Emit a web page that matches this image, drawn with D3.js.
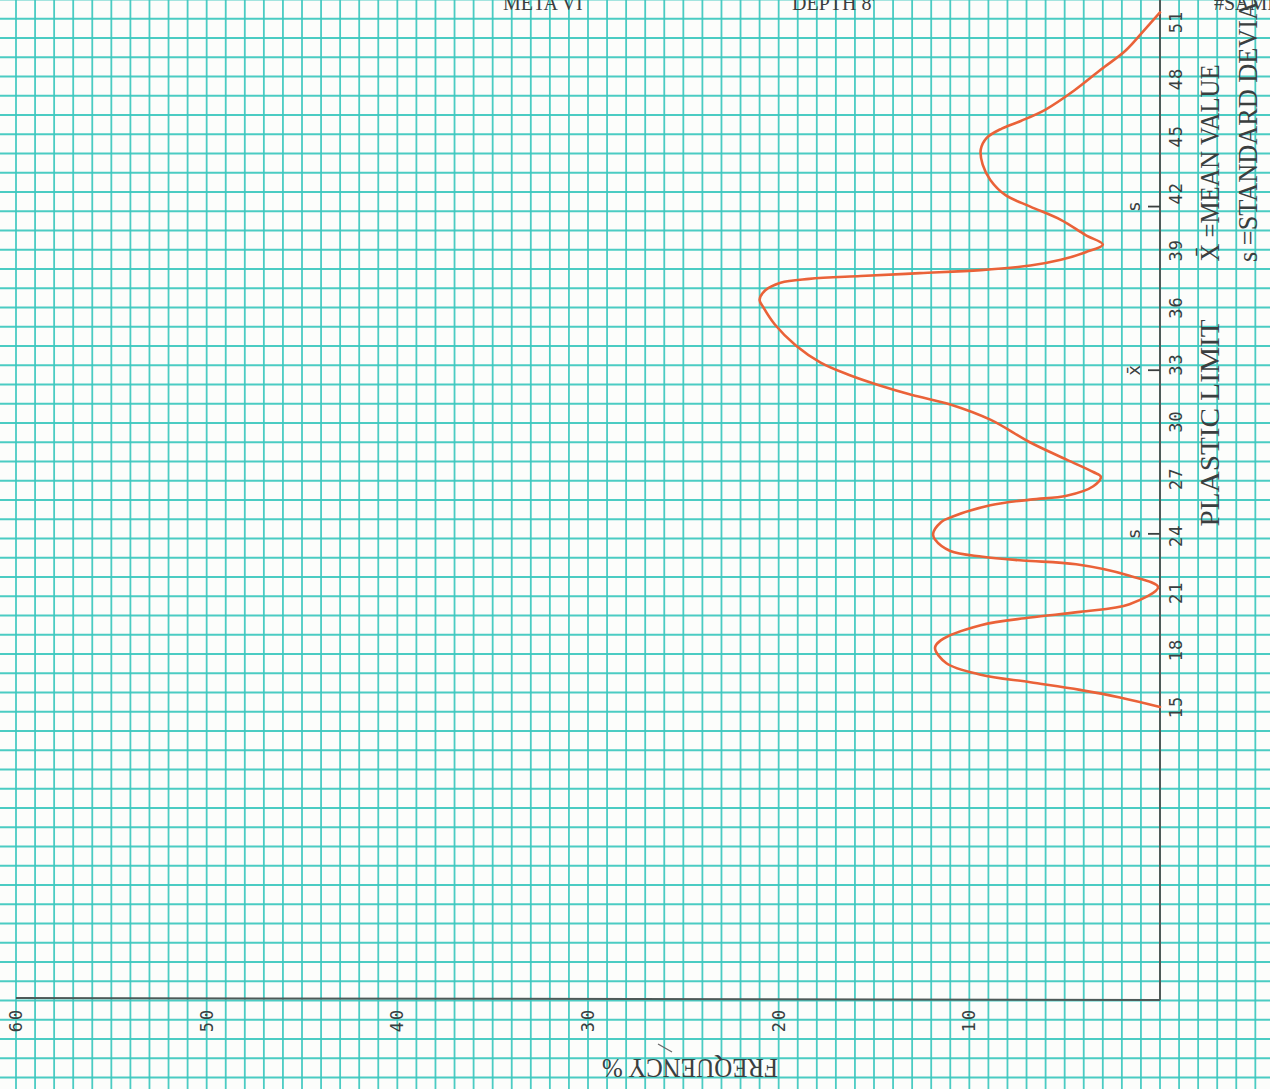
<!DOCTYPE html>
<html><head><meta charset="utf-8">
<script src="https://cdn.jsdelivr.net/npm/d3@7"></script>
<style>html,body{margin:0;padding:0;background:#fcfdfb;overflow:hidden}</style>
</head><body>
<script>
// ---- data ----
const freqTicks = [60, 50, 40, 30, 20, 10];
const plTicks = [15, 18, 21, 24, 27, 30, 33, 36, 39, 42, 45, 48, 51];
const plasticLimit = [15.0,15.5,15.9,16.3,16.7,17.3,18.1,18.5,19.3,19.7,20.0,20.4,21.3,21.9,22.5,22.7,22.9,23.2,23.8,24.1,24.7,25.0,25.6,25.9,26.1,26.6,27.1,27.35,28.0,28.9,30.1,30.9,31.4,31.9,32.45,33.1,34.0,35.1,36.0,36.4,36.9,37.3,37.5,37.65,37.8,37.96,38.2,38.5,38.9,39.3,39.8,40.6,41.3,41.9,42.7,43.5,44.3,44.9,45.4,45.8,46.4,47.4,48.5,49.5,50.6,51.5];
const frequency    = [0.0,2.1,4.2,6.8,9.4,11.2,11.8,11.5,9.4,6.8,4.2,1.6,0.1,1.6,4.4,7.2,9.3,11.0,11.8,11.9,11.5,10.9,8.9,6.8,4.9,3.5,3.1,3.5,4.9,6.8,8.9,11.0,13.0,14.7,16.3,17.8,19.1,20.2,20.8,21.0,20.7,19.9,18.4,15.7,12.6,9.4,6.8,5.2,3.9,3.0,3.9,5.2,6.8,8.1,8.9,9.3,9.4,9.1,8.3,7.3,6.0,4.5,3.1,1.8,0.8,0.0];
const markerValues = [24.1, 32.7, 41.3];
const markerLabels = ["s", "x\u0304", "s"];
const titleTexts = ["META VI", "DEPTH 8'", "#SAMPLE"];

const W = 1270, H = 1089;
const svg = d3.select("body").append("svg").attr("width", W).attr("height", H);
svg.append("rect").attr("width", W).attr("height", H).attr("fill", "#fcfdfb");

// scales: the sheet is rotated, frequency runs right->left, plastic limit bottom->top
const x = d3.scaleLinear().domain([0, 60]).range([1160, 16]);
const y = d3.scaleLinear().domain([15, 51]).range([707, 22]);
// graph-paper ruling scale (paper squares)
const gy = d3.scaleLinear().domain([0, 1]).range([1000.5, 981.25]);

const grid = svg.append("g");
grid.selectAll("line.v").data(d3.range(-6, 62)).join("line")
  .attr("x1", d => x(d)).attr("x2", d => x(d)).attr("y1", 0).attr("y2", H)
  .attr("stroke", "#3cc8bf").attr("stroke-width", 1.8).attr("opacity", 0.92);
grid.selectAll("line.h").data(d3.range(-5, 53)).join("line")
  .attr("y1", d => gy(d)).attr("y2", d => gy(d)).attr("x1", 0).attr("x2", W)
  .attr("stroke", "#3cc8bf").attr("stroke-width", 1.8).attr("opacity", 0.92);

// axes
svg.append("line").attr("x1", x(0)).attr("x2", x(0)).attr("y1", 0).attr("y2", 1000)
  .attr("stroke", "#4e5a58").attr("stroke-width", 2);
svg.append("line").attr("x1", x(60)).attr("x2", x(0)).attr("y1", 998).attr("y2", 1000)
  .attr("stroke", "#4e5a58").attr("stroke-width", 2);

const ink = "#3a3f3f";
// plastic limit tick labels
svg.selectAll("text.pl").data(plTicks).join("text")
  .attr("transform", d => `translate(1176,${y(d)}) rotate(-90)`)
  .attr("text-anchor", "middle").attr("dominant-baseline", "central")
  .attr("font-family", "DejaVu Sans Mono").attr("font-size", 17).attr("letter-spacing", 1)
  .attr("fill", ink).text(d => d);

// frequency tick labels
svg.selectAll("text.fr").data(freqTicks).join("text")
  .attr("transform", d => `translate(${x(d)},1020) rotate(-90)`)
  .attr("text-anchor", "middle").attr("dominant-baseline", "central")
  .attr("font-family", "DejaVu Sans Mono").attr("font-size", 17).attr("letter-spacing", 2)
  .attr("fill", ink).text(d => d);

// mean / std markers
svg.selectAll("line.mk").data(markerValues).join("line")
  .attr("x1", 1148).attr("x2", x(0)).attr("y1", d => y(d)).attr("y2", d => y(d))
  .attr("stroke", ink).attr("stroke-width", 1.8);
svg.selectAll("text.mk").data(markerValues).join("text")
  .attr("transform", d => `translate(1133,${y(d)}) rotate(-90)`)
  .attr("text-anchor", "middle").attr("dominant-baseline", "central")
  .attr("font-family", "DejaVu Sans Mono").attr("font-size", 18)
  .attr("fill", ink).text((d, i) => markerLabels[i]);

// axis / legend texts (rotated like the sheet)
function rtext(tx, ty, rot, str, len, size, anchor) {
  const t = svg.append("text")
    .attr("transform", `translate(${tx},${ty}) rotate(${rot})`)
    .attr("text-anchor", anchor || "middle").attr("dominant-baseline", "central")
    .attr("font-family", "Liberation Serif").attr("font-size", size)
    .attr("fill", ink).text(str);
  if (len) t.attr("textLength", len).attr("lengthAdjust", "spacingAndGlyphs");
  return t;
}
rtext(1209, 423, -90, "PLASTIC LIMIT", 207, 28);
rtext(1209, 163, -90, "X\u0304 =MEAN VALUE", 197, 28);
rtext(1247, 262, -90, "s =STANDARD DEVIATION", 321, 28, "start");
rtext(690, 1068, 180, "FREQUENCY %", 176, 27);
svg.append("line").attr("x1", 658).attr("y1", 1044).attr("x2", 672).attr("y2", 1052)
  .attr("stroke", "#666").attr("stroke-width", 1.2);

// title (cut off at the top edge of the scan, only lower half visible)
const titleX = [503, 792, 1214];
titleTexts.forEach((t, i) => {
  svg.append("text").attr("x", titleX[i]).attr("y", 10)
    .attr("font-family", "Liberation Serif").attr("font-size", 20)
    .attr("fill", ink).text(t);
});

// frequency curve
const line = d3.line()
  .x((d, i) => x(frequency[i]))
  .y((d, i) => y(d))
  .curve(d3.curveCatmullRom.alpha(0.5));
svg.append("path").datum(plasticLimit).attr("d", line)
  .attr("fill", "none").attr("stroke", "#ea6238").attr("stroke-width", 2.6)
  .attr("stroke-linejoin", "round").attr("stroke-linecap", "round");
</script>
</body></html>
